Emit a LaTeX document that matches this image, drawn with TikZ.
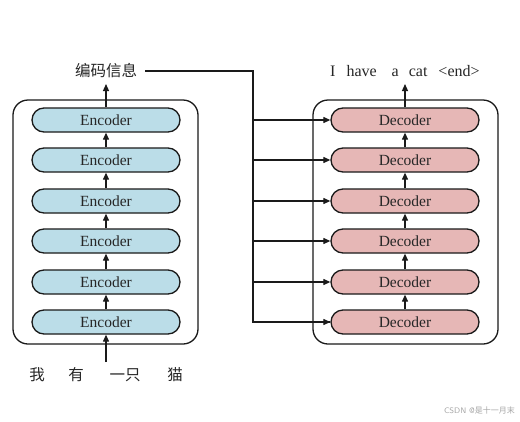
\documentclass[tikz,border=0pt]{standalone}
\usepackage{fontspec}
\setmainfont{Liberation Serif}
\newfontfamily\cjk{Noto Sans CJK SC}
\usetikzlibrary{arrows.meta,calc}
\definecolor{encfill}{HTML}{BBDDE8}
\definecolor{decfill}{HTML}{E6B7B6}
\definecolor{edge}{HTML}{1A1A1A}
\tikzset{
  cont/.style={draw=edge, line width=1.3pt, rounded corners=15pt},
  blk/.style={draw=edge, line width=1.3pt, rounded corners=12pt, minimum width=148pt, minimum height=24pt, inner sep=0pt, font=\fontsize{15.5}{16}\selectfont, text=black!85},
  enc/.style={blk, fill=encfill},
  dec/.style={blk, fill=decfill},
  conn/.style={draw=edge, line width=1.2pt, -{Triangle[length=7pt,width=6pt]}},
  plain/.style={draw=edge, line width=1.2pt},
  cjktxt/.style={font=\cjk\fontsize{15.5}{16}\selectfont, inner sep=0pt, text=black!85},
  entxt/.style={font=\fontsize{16}{17}\selectfont, inner sep=0pt, text=black!85},
}
\begin{document}
\begin{tikzpicture}[x=1pt,y=-1pt]
\useasboundingbox (0,0) rectangle (520,421);
\fill[white] (0,0) rectangle (520,421);
% containers
\draw[cont] (13,100) rectangle (198,344);
\draw[cont] (313,100) rectangle (498,344);
% encoders / decoders
\foreach \i/\y in {1/120,2/160,3/201,4/241,5/282,6/322}{
  \node[enc] (e\i) at (106,\y) {Encoder};
  \node[dec] (d\i) at (405,\y) {Decoder};
}
\foreach \a/\b in {6/5,5/4,4/3,3/2,2/1}{
  \draw[conn] (e\a.north) -- (e\b.south);
  \draw[conn] (d\a.north) -- (d\b.south);
}
% input
\node[cjktxt] (w1) at (37,375) {我};
\node[cjktxt] (w2) at (76,375) {有};
\node[cjktxt] (w3) at (125,375) {一只};
\node[cjktxt] (w4) at (175,375) {猫};
\coordinate (in) at (106,362);
\draw[conn] (in) -- (e6.south);
% encoder output
\node[cjktxt] (info) at (106,71) {编码信息};
\draw[conn] (e1.north) -- (106,84);
% decoder output
\node[entxt, anchor=west] (out) at (330,71) {I\hspace{11pt}have\hspace{15pt}a\hspace{10pt}cat\hspace{11pt}<end>};
\draw[conn] (d1.north) -- (405,84);
% bus
\coordinate (bus) at (253,71);
\draw[plain] ([xshift=8pt]info.east) -- (bus) |- (d6.west);
\draw[conn] (bus |- d6) -- (d6.west);
\foreach \i in {1,...,5}{
  \draw[conn] (bus |- d\i) -- (d\i.west);
}
% watermark
\node[font=\fontsize{8}{9}\selectfont\sffamily, text=black!35, anchor=east, inner sep=0pt] (wm) at (515,410) {CSDN @{\cjk 是十一月末}};
\end{tikzpicture}
\end{document}
